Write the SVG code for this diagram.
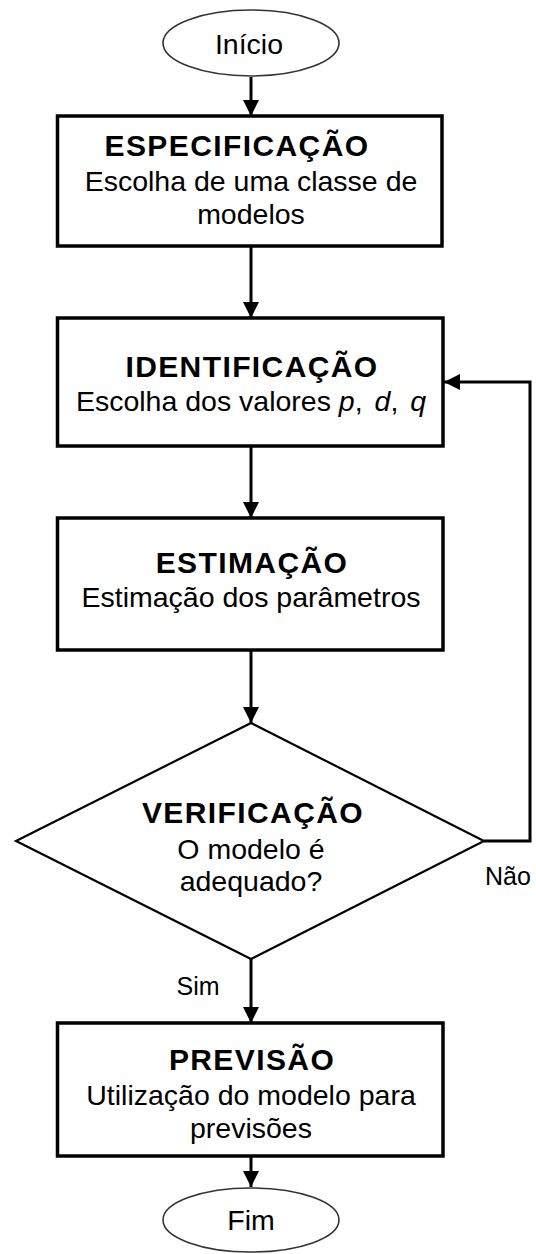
<svg xmlns="http://www.w3.org/2000/svg" width="536" height="1254" viewBox="0 0 536 1254">
<style>
.box{fill:#fff;stroke:#000;stroke-width:3.5}
.ell{fill:#fff;stroke:#333;stroke-width:1.6}
.dia{fill:#fff;stroke:#000;stroke-width:2.2}
.t{font-family:"Liberation Sans",Arial,sans-serif;fill:#000;text-anchor:middle}
.h{font-size:30px;font-weight:bold;letter-spacing:1.4px}
.b{font-size:28.5px}
.l{font-size:25px}
.c{fill:none;stroke:#000;stroke-width:3}
</style>
<defs>
<marker id="ah" markerUnits="userSpaceOnUse" markerWidth="16" markerHeight="16" refX="16" refY="8" orient="auto">
<path d="M0,0 L16,8 L0,16 z" fill="#000"/>
</marker>
</defs>
<rect width="536" height="1254" fill="#fff"/>
<g id="connectors">
<line class="c" x1="251" y1="77" x2="251" y2="116" marker-end="url(#ah)"/>
<line class="c" x1="251" y1="246" x2="251" y2="318" marker-end="url(#ah)"/>
<line class="c" x1="251" y1="446" x2="251" y2="518" marker-end="url(#ah)"/>
<line class="c" x1="251" y1="650" x2="251" y2="723" marker-end="url(#ah)"/>
<line class="c" x1="251" y1="959" x2="251" y2="1023" marker-end="url(#ah)"/>
<line class="c" x1="251" y1="1156" x2="251" y2="1187" marker-end="url(#ah)"/>
<polyline class="c" points="484,841 530,841 530,382 444,382" marker-end="url(#ah)"/>
<text class="t l" x="198" y="995">Sim</text>
<text class="t l" x="508" y="885">Não</text>
</g>
<g id="inicio">
<ellipse class="ell" cx="251" cy="43" rx="88" ry="33"/>
<text class="t b" x="249" y="54">Início</text>
</g>
<g id="especificacao">
<rect class="box" x="57.5" y="116" width="384.5" height="130"/>
<text class="t h" x="237" y="156">ESPECIFICAÇÃO</text>
<text class="t b" x="251" y="191">Escolha de uma classe de</text>
<text class="t b" x="251" y="224">modelos</text>
</g>
<g id="identificacao">
<rect class="box" x="57.5" y="318" width="385.5" height="128"/>
<text class="t h" x="252" y="377">IDENTIFICAÇÃO</text>
<text class="t b" x="251" y="411">Escolha dos valores <tspan font-style="italic">p</tspan>, <tspan font-style="italic" dx="4">d</tspan>, <tspan font-style="italic" dx="4">q</tspan></text>
</g>
<g id="estimacao">
<rect class="box" x="57.5" y="518" width="385.5" height="132"/>
<text class="t h" x="252" y="573">ESTIMAÇÃO</text>
<text class="t b" x="251" y="607">Estimação dos parâmetros</text>
</g>
<g id="verificacao">
<polygon class="dia" points="251,723 484,841 251,959 16,841"/>
<text class="t h" x="253" y="823">VERIFICAÇÃO</text>
<text class="t b" x="251" y="859">O modelo é</text>
<text class="t b" x="251" y="891">adequado?</text>
</g>
<g id="previsao">
<rect class="box" x="57.5" y="1023" width="385.5" height="133"/>
<text class="t h" x="252" y="1070">PREVISÃO</text>
<text class="t b" x="251" y="1105">Utilização do modelo para</text>
<text class="t b" x="251" y="1138">previsões</text>
</g>
<g id="fim">
<ellipse class="ell" cx="251" cy="1220" rx="88" ry="32"/>
<text class="t b" x="251" y="1230">Fim</text>
</g>
</svg>
